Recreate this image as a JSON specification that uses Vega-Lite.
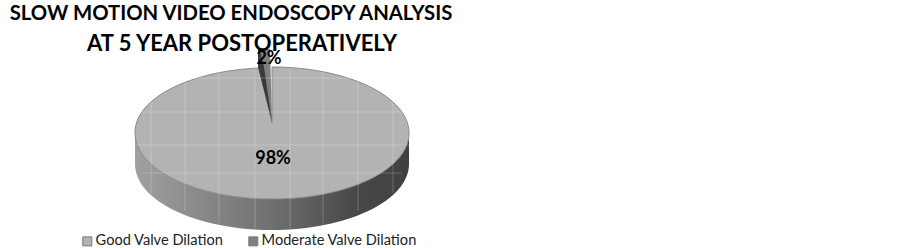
{
"$schema":"https://vega.github.io/schema/vega-lite/v6.json",
"width":544,"height":146,
"autosize":{"type":"none"},
"padding":{"left":0,"top":60,"right":358,"bottom":42},
"background":"white",
"view":{"stroke":null},
"title":{"text":"SLOW MOTION VIDEO ENDOSCOPY ANALYSIS","subtitle":"AT 5 YEAR POSTOPERATIVELY","font":"Lato","fontWeight":"bold","fontSize":20.3,"color":"#000000","subtitleFont":"Lato","subtitleFontWeight":"bold","subtitleFontSize":22,"subtitleColor":"#000000","subtitlePadding":10,"anchor":"middle","offset":-6,"dx":-41,"encode":{"subtitle":{"update":{"dx":{"value":-30}}}}},
"data":{"values":[{"category":"Good Valve Dilation","share":0.98},{"category":"Moderate Valve Dilation","share":0.02}]},
"layer":[
{"transform":[{"filter":"datum.category==='Good Valve Dilation'"}],
 "mark":{"type":"point","filled":true,"size":4,"opacity":1,"shape":"M-137,0C-137,36.5-75.7,66,0,66C75.7,66,137,36.5,137,0L137,31C137,67.5,75.7,97,0,97C-75.7,97-137,67.5-137,31Z",
 "fill":{"gradient":"linear","x1":0,"y1":0,"x2":1,"y2":0,"stops":[{"offset":0,"color":"#a0a0a0"},{"offset":0.5,"color":"#707070"},{"offset":0.8,"color":"#484848"},{"offset":1,"color":"#404040"}]}}},
{"transform":[{"filter":"datum.category==='Good Valve Dilation'"}],
 "mark":{"type":"point","filled":true,"size":4,"opacity":1,"stroke":"#8a8a8a","strokeWidth":1,"shape":"M-13,-65C-80,-62,-137,-36,-137,0C-137,36.5-75.7,66,0,66C75.7,66,137,36.5,137,0C137,-36.5,75.7,-66,0,-66L0,-10Z"},
 "encoding":{"color":{"field":"category","type":"nominal","scale":{"domain":["Good Valve Dilation","Moderate Valve Dilation"],"range":["#b3b3b3","#808080"]},
 "legend":{"title":null,"orient":"none","legendX":80,"legendY":174,"direction":"horizontal","columns":2,"columnPadding":22,"symbolType":"square","symbolSize":81,"symbolStrokeColor":"#777777","symbolStrokeWidth":1,"labelFont":"Lato","labelFontSize":14.6,"labelColor":"#222222","labelLimit":220,"symbolOpacity":1,"labelOffset":1}}}},
{"transform":[{"filter":"datum.category==='Moderate Valve Dilation'"}],
 "mark":{"type":"point","filled":true,"size":4,"opacity":1,"shape":"M-14,-84L-2,-84L-1.5,-66L0,-11Z"},
 "encoding":{"color":{"field":"category","type":"nominal"}}},
{"transform":[{"filter":"datum.category==='Moderate Valve Dilation'"}],
 "mark":{"type":"point","filled":true,"size":4,"opacity":1,"fill":"#3a3a3a","shape":"M-14,-84L-12.5,-84L-8,-66L0,-11L-14,-66Z"}},
{"transform":[{"filter":"datum.category==='Good Valve Dilation'"}],
 "mark":{"type":"point","filled":false,"size":4,"opacity":0.22,"stroke":"#ffffff","strokeWidth":1,"shape":"M-121,-33V60M-87,-52V78M-53,-61V90M-17,-65V96M18,-65V96M51,-62V90M86,-53V78M121,-32V60M-106,-55H106M-133,-21H133M-137,12H137M-130,40H130"}},
{"transform":[{"filter":"datum.category==='Good Valve Dilation'"}],
 "mark":{"type":"text","font":"Lato","fontWeight":"bold","fontSize":18,"color":"#000000","dx":1,"dy":26},
 "encoding":{"text":{"field":"share","type":"quantitative","format":".0%"}}},
{"transform":[{"filter":"datum.category==='Moderate Valve Dilation'"}],
 "mark":{"type":"text","font":"Lato","fontWeight":"bold","fontSize":18,"color":"#000000","dx":-3,"dy":-74},
 "encoding":{"text":{"field":"share","type":"quantitative","format":".0%"}}}
]
}
